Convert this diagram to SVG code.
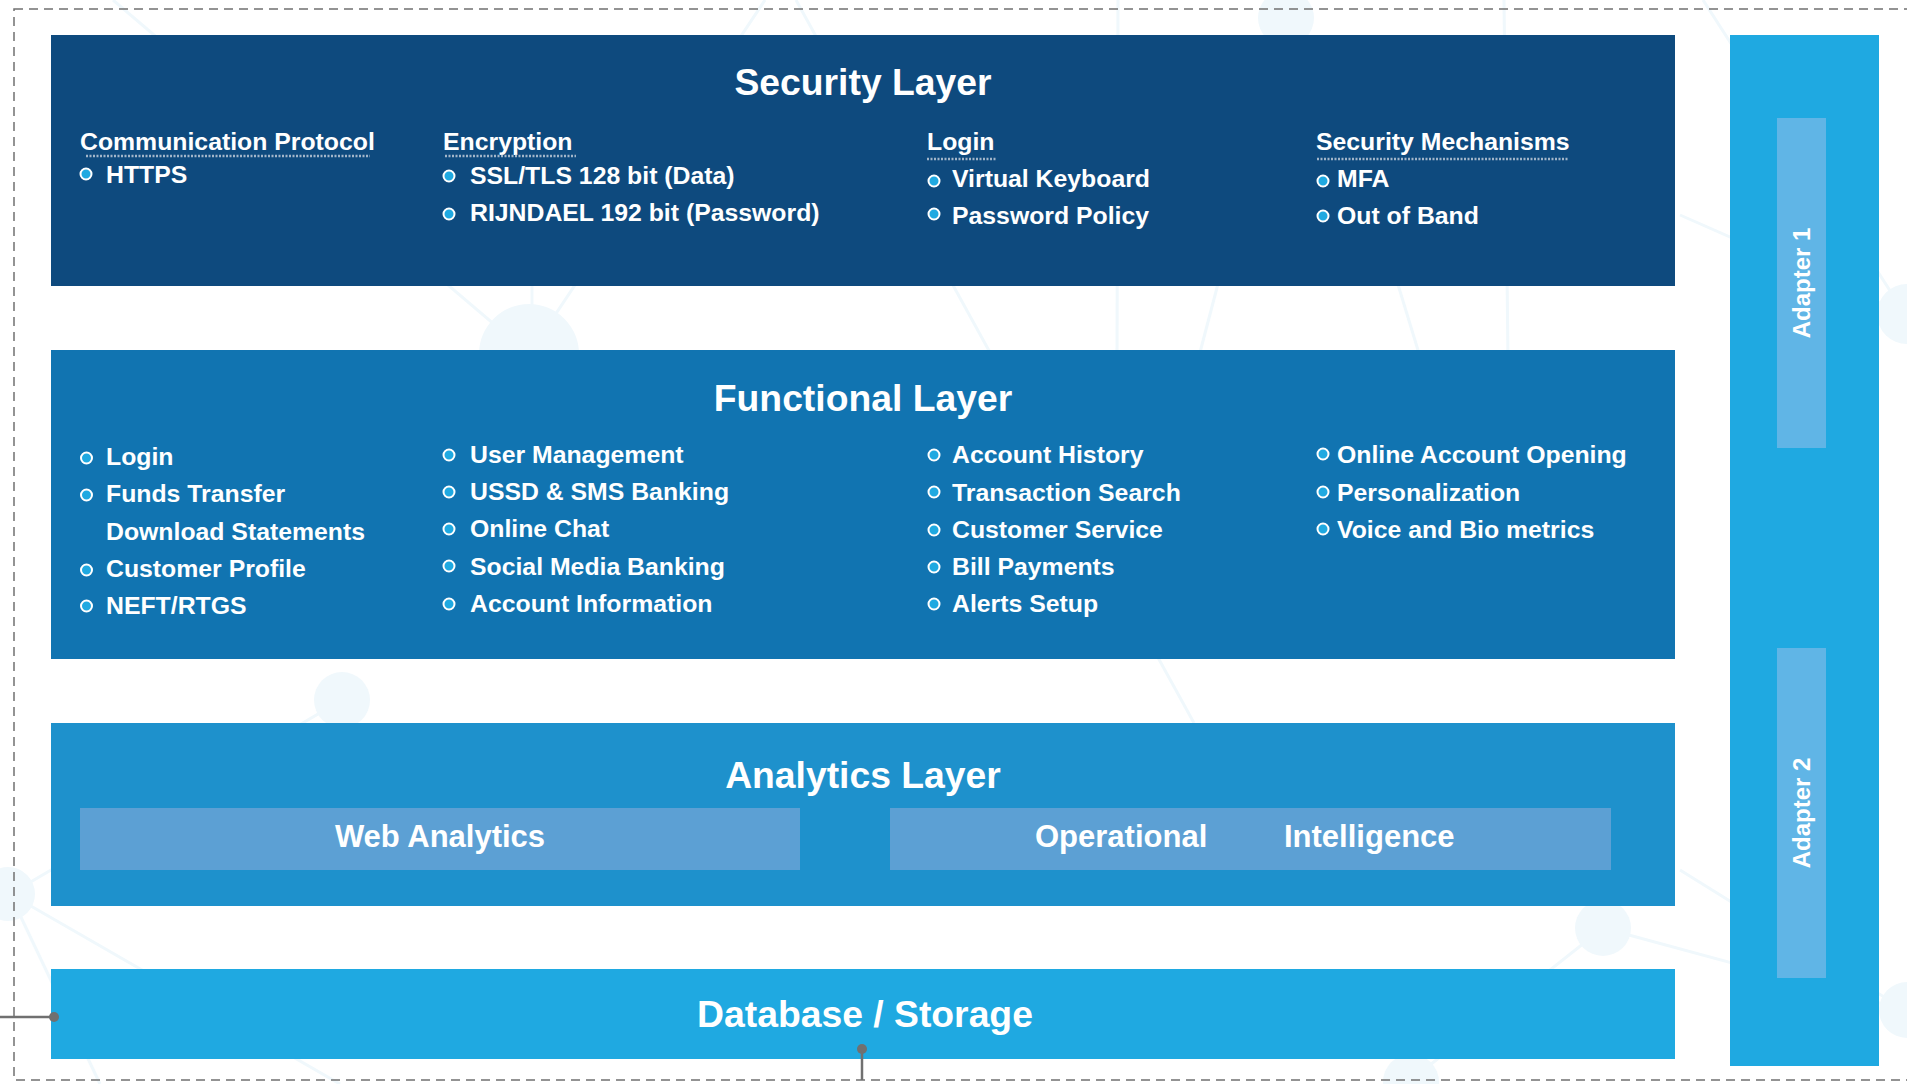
<svg xmlns="http://www.w3.org/2000/svg" width="1907" height="1084" viewBox="0 0 1907 1084">
<style>
.bgl{stroke:#f0f8fc;stroke-width:3;fill:none}
.bgc{fill:#f0f8fc}
.t{font-family:"Liberation Sans",Arial,sans-serif;font-weight:bold;fill:#fff}
.title{font-size:37.3px;text-anchor:middle}
.h{font-size:24.8px}
.i{font-size:24.8px}
.sub{font-size:31px}
.ad{font-size:24px;text-anchor:middle}
.ul{stroke:#a3b6ca;stroke-width:2.5;stroke-dasharray:2 1.5}
.b{fill:#1fa9e1;stroke:#fff;stroke-width:2}
.conn{stroke:#707070;stroke-width:2.5;fill:none}
.dot{fill:#707070}
</style>
<rect width="1907" height="1084" fill="#fff"/>
<g id="background">
<line class="bgl" x1="113" y1="0" x2="529" y2="354"/>
<line class="bgl" x1="532" y1="200" x2="532" y2="354"/>
<line class="bgl" x1="765" y1="0" x2="529" y2="354"/>
<line class="bgl" x1="796" y1="0" x2="1194" y2="723"/>
<line class="bgl" x1="1118" y1="0" x2="1117" y2="360"/>
<line class="bgl" x1="1240" y1="200" x2="1198" y2="360"/>
<line class="bgl" x1="1360" y1="160" x2="1421" y2="360"/>
<line class="bgl" x1="1504" y1="0" x2="1508" y2="360"/>
<line class="bgl" x1="1703" y1="0" x2="1905" y2="314"/>
<line class="bgl" x1="1680" y1="215" x2="1905" y2="314"/>
<line class="bgl" x1="342" y1="700" x2="10" y2="894"/>
<line class="bgl" x1="10" y1="894" x2="340" y2="1084"/>
<line class="bgl" x1="10" y1="894" x2="100" y2="1084"/>
<line class="bgl" x1="1603" y1="928" x2="1905" y2="1010"/>
<line class="bgl" x1="1603" y1="928" x2="1411" y2="1080"/>
<line class="bgl" x1="1603" y1="928" x2="1640" y2="760"/>
<line class="bgl" x1="1680" y1="870" x2="1905" y2="1010"/>
<circle class="bgc" cx="529" cy="354" r="50"/>
<circle class="bgc" cx="1286" cy="18" r="28"/>
<circle class="bgc" cx="342" cy="700" r="28"/>
<circle class="bgc" cx="1603" cy="928" r="28"/>
<circle class="bgc" cx="8" cy="894" r="27"/>
<circle class="bgc" cx="1411" cy="1082" r="28"/>
<circle class="bgc" cx="1907" cy="314" r="30"/>
<circle class="bgc" cx="1907" cy="1010" r="28"/>
</g>
<rect x="14" y="9" width="1900" height="1071" fill="none" stroke="#707070" stroke-width="1.5" stroke-dasharray="9 6"/>
<g id="security-layer">
<rect x="51" y="35" width="1624" height="251" fill="#0e4a7e"/>
<text class="t title" x="863" y="95">Security Layer</text>
<text class="t h" x="80" y="150">Communication Protocol</text>
<line class="ul" x1="86" y1="156" x2="370" y2="156"/>
<circle class="b" cx="86" cy="174" r="5.5"/>
<text class="t i" x="106" y="183">HTTPS</text>
<text class="t h" x="443" y="150">Encryption</text>
<line class="ul" x1="445" y1="156" x2="576" y2="156"/>
<circle class="b" cx="449" cy="176" r="5.5"/>
<text class="t i" x="470" y="184">SSL/TLS 128 bit (Data)</text>
<circle class="b" cx="449" cy="214" r="5.5"/>
<text class="t i" x="470" y="221">RIJNDAEL 192 bit (Password)</text>
<text class="t h" x="927" y="150">Login</text>
<line class="ul" x1="927" y1="159" x2="996" y2="159"/>
<circle class="b" cx="934" cy="181" r="5.5"/>
<text class="t i" x="952" y="187">Virtual Keyboard</text>
<circle class="b" cx="934" cy="214" r="5.5"/>
<text class="t i" x="952" y="224">Password Policy</text>
<text class="t h" x="1316" y="150">Security Mechanisms</text>
<line class="ul" x1="1317" y1="159" x2="1569" y2="159"/>
<circle class="b" cx="1323" cy="181" r="5.5"/>
<text class="t i" x="1337" y="187">MFA</text>
<circle class="b" cx="1323" cy="216" r="5.5"/>
<text class="t i" x="1337" y="224">Out of Band</text>
</g>
<g id="functional-layer">
<rect x="51" y="350" width="1624" height="309" fill="#1174b1"/>
<text class="t title" x="863" y="411">Functional Layer</text>
<circle class="b" cx="86.5" cy="458" r="5.5"/>
<text class="t i" x="106" y="465">Login</text>
<circle class="b" cx="86.5" cy="495" r="5.5"/>
<text class="t i" x="106" y="502">Funds Transfer</text>
<text class="t i" x="106" y="540">Download Statements</text>
<circle class="b" cx="86.5" cy="570" r="5.5"/>
<text class="t i" x="106" y="577">Customer Profile</text>
<circle class="b" cx="86.5" cy="606" r="5.5"/>
<text class="t i" x="106" y="614">NEFT/RTGS</text>
<circle class="b" cx="449" cy="455" r="5.5"/>
<text class="t i" x="470" y="463">User Management</text>
<circle class="b" cx="449" cy="492" r="5.5"/>
<text class="t i" x="470" y="500">USSD &amp; SMS Banking</text>
<circle class="b" cx="449" cy="529" r="5.5"/>
<text class="t i" x="470" y="537">Online Chat</text>
<circle class="b" cx="449" cy="566" r="5.5"/>
<text class="t i" x="470" y="575">Social Media Banking</text>
<circle class="b" cx="449" cy="604" r="5.5"/>
<text class="t i" x="470" y="612">Account Information</text>
<circle class="b" cx="934" cy="455" r="5.5"/>
<text class="t i" x="952" y="463">Account History</text>
<circle class="b" cx="934" cy="492" r="5.5"/>
<text class="t i" x="952" y="501">Transaction Search</text>
<circle class="b" cx="934" cy="530" r="5.5"/>
<text class="t i" x="952" y="538">Customer Service</text>
<circle class="b" cx="934" cy="567" r="5.5"/>
<text class="t i" x="952" y="575">Bill Payments</text>
<circle class="b" cx="934" cy="604" r="5.5"/>
<text class="t i" x="952" y="612">Alerts Setup</text>
<circle class="b" cx="1323" cy="454" r="5.5"/>
<text class="t i" x="1337" y="463">Online Account Opening</text>
<circle class="b" cx="1323" cy="492" r="5.5"/>
<text class="t i" x="1337" y="501">Personalization</text>
<circle class="b" cx="1323" cy="529" r="5.5"/>
<text class="t i" x="1337" y="538">Voice and Bio metrics</text>
</g>
<g id="analytics-layer">
<rect x="51" y="723" width="1624" height="183" fill="#1e91cc"/>
<text class="t title" x="863" y="788">Analytics Layer</text>
<g id="web-analytics">
<rect x="80" y="808" width="720" height="62" fill="#5ca0d4"/>
<text class="t sub" x="440" y="847" text-anchor="middle">Web Analytics</text>
</g>
<g id="operational-intelligence">
<rect x="890" y="808" width="721" height="62" fill="#5ca0d4"/>
<text class="t sub" y="847"><tspan x="1035">Operational</tspan><tspan x="1284">Intelligence</tspan></text>
</g>
</g>
<g id="database-storage">
<rect x="51" y="969" width="1624" height="90" fill="#1fa9e1"/>
<text class="t title" x="865" y="1027">Database / Storage</text>
</g>
<g id="adapters">
<rect x="1730" y="35" width="149" height="1031" fill="#1fa9e1"/>
<g id="adapter-1">
<rect x="1777" y="118" width="49" height="330" fill="#60b5e6"/>
<text class="t ad" transform="translate(1810 283) rotate(-90)">Adapter 1</text>
</g>
<g id="adapter-2">
<rect x="1777" y="648" width="49" height="330" fill="#60b5e6"/>
<text class="t ad" transform="translate(1810 813) rotate(-90)">Adapter 2</text>
</g>
</g>
<g id="connectors">
<line class="conn" x1="0" y1="1017" x2="54" y2="1017"/>
<circle class="dot" cx="54" cy="1017" r="5"/>
<line class="conn" x1="862" y1="1049" x2="862" y2="1080"/>
<circle class="dot" cx="862" cy="1049" r="5"/>
</g>
</svg>
